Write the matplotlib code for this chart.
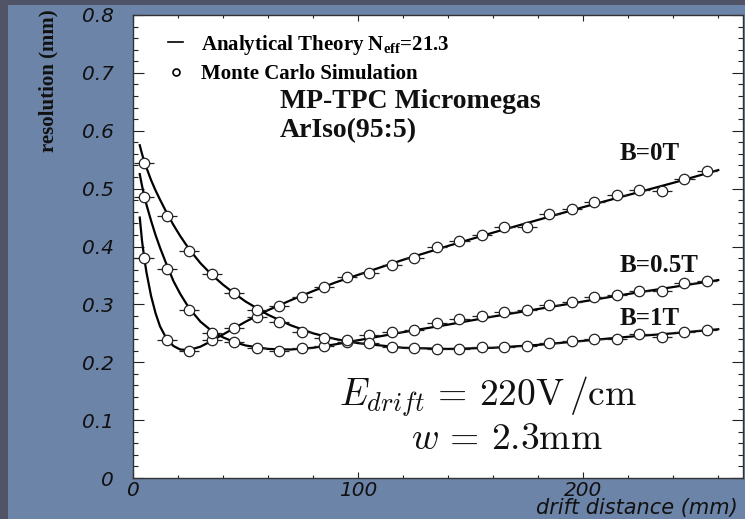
import matplotlib
matplotlib.use("Agg")
import matplotlib.pyplot as plt
import matplotlib.patches as patches
from matplotlib.lines import Line2D
from matplotlib.font_manager import FontProperties
from matplotlib.ticker import MultipleLocator, FuncFormatter


# -----------------------------
# DATA
# -----------------------------
mc_x = [5, 15, 25, 35, 45, 55, 65, 75, 85, 95, 105, 115, 125,
        135, 145, 155, 165, 175, 185, 195, 205, 215, 225, 235, 245, 255]

mc_b0 = [0.380, 0.238, 0.219, 0.238, 0.260, 0.278, 0.297, 0.313, 0.330,
         0.347, 0.354, 0.368, 0.380, 0.400, 0.410, 0.420, 0.434, 0.434,
         0.457, 0.465, 0.477, 0.489, 0.497, 0.496, 0.516, 0.530]

mc_b05 = [0.485, 0.361, 0.290, 0.250, 0.235, 0.224, 0.220, 0.224, 0.228,
          0.235, 0.247, 0.252, 0.255, 0.267, 0.275, 0.280, 0.287, 0.290,
          0.299, 0.304, 0.312, 0.316, 0.323, 0.323, 0.337, 0.340]

mc_b1 = [0.544, 0.452, 0.392, 0.352, 0.320, 0.290, 0.270, 0.252, 0.242,
         0.238, 0.233, 0.226, 0.224, 0.223, 0.223, 0.226, 0.226, 0.228,
         0.233, 0.237, 0.240, 0.240, 0.249, 0.244, 0.252, 0.256]

mc_xerr = 4.5

th_x = [3, 4, 5, 6, 8, 10, 12, 15, 18, 21, 25, 30, 35, 40, 45, 50,
        60, 70, 80, 90, 100, 120, 140, 160, 180, 200, 220, 240, 260]

th_b0 = [0.450, 0.410, 0.380, 0.355, 0.315, 0.285, 0.262, 0.240, 0.228,
         0.222, 0.221, 0.227, 0.237, 0.248, 0.259, 0.270, 0.290, 0.307,
         0.323, 0.338, 0.351, 0.377, 0.401, 0.424, 0.446, 0.468, 0.489,
         0.510, 0.532]

th_b05 = [0.525, 0.505, 0.488, 0.472, 0.445, 0.420, 0.398, 0.368, 0.340,
          0.318, 0.293, 0.270, 0.254, 0.243, 0.235, 0.229, 0.223, 0.222,
          0.225, 0.231, 0.238, 0.252, 0.265, 0.279, 0.292, 0.305, 0.318,
          0.330, 0.342]

th_b1 = [0.575, 0.560, 0.547, 0.536, 0.515, 0.497, 0.481, 0.458, 0.437,
         0.418, 0.395, 0.371, 0.351, 0.334, 0.319, 0.305, 0.282, 0.264,
         0.250, 0.240, 0.233, 0.225, 0.223, 0.225, 0.230, 0.237, 0.244,
         0.250, 0.257]

curve_labels = ["B=0T", "B=0.5T", "B=1T"]
legend_labels = ["Analytical Theory N$_{\\mathrm{eff}}$=21.3",
                 "Monte Carlo Simulation"]

# -----------------------------
# STYLE
# -----------------------------
BG = "#6d84a9"
DARK = "#515466"

plt.rcParams["mathtext.fontset"] = "cm"
plt.rcParams["mathtext.rm"] = "Liberation Serif:bold"
plt.rcParams["mathtext.bf"] = "Liberation Serif:bold"
plt.rcParams["mathtext.it"] = "Liberation Serif:bold:italic"

fig = plt.figure(figsize=(7.45, 5.19), dpi=100, facecolor=BG)

# dark frame strips on top and left
fig.patches.append(patches.Rectangle((0, 1 - 5 / 519), 1, 5 / 519,
                                     transform=fig.transFigure,
                                     facecolor=DARK, edgecolor="none"))
fig.patches.append(patches.Rectangle((0, 0), 8 / 745, 1,
                                     transform=fig.transFigure,
                                     facecolor=DARK, edgecolor="none"))

ax = fig.add_axes([133 / 745, 41 / 519, 610 / 745, 463 / 519])
ax.set_facecolor("white")

# -----------------------------
# CURVES
# -----------------------------
for ty in (th_b0, th_b05, th_b1):
    ax.plot(th_x, ty, color="black", lw=1.6, zorder=2)

for my in (mc_b0, mc_b05, mc_b1):
    ax.errorbar(mc_x, my, xerr=mc_xerr, fmt="o", ms=7.5,
                mfc="white", mec="#222222", mew=0.9,
                ecolor="#222222", elinewidth=0.9, capsize=0, zorder=3)

ax.set_xlim(0, 271)
ax.set_ylim(0, 0.8)

ax.xaxis.set_major_locator(MultipleLocator(100))
ax.xaxis.set_minor_locator(MultipleLocator(20))
ax.yaxis.set_major_locator(MultipleLocator(0.1))
ax.yaxis.set_minor_locator(MultipleLocator(0.02))
ax.yaxis.set_major_formatter(FuncFormatter(lambda v, p: f"{v:.1f}" if v else "0"))

ax.tick_params(axis="both", which="both", direction="in",
               top=True, right=True, color="#222222", width=0.8)
ax.tick_params(axis="y", which="major", length=8, pad=14)
ax.tick_params(axis="y", which="minor", length=3.5)
ax.tick_params(axis="x", which="major", length=4, pad=2)
ax.tick_params(axis="x", which="minor", length=2)

for lab in ax.get_xticklabels() + ax.get_yticklabels():
    lab.set_fontfamily("DejaVu Sans")
    lab.set_fontstyle("oblique")
    lab.set_fontsize(14.5)
    lab.set_color("#111111")

for sp in ax.spines.values():
    sp.set_linewidth(1.0)
    sp.set_color("#333333")

# -----------------------------
# LEGEND
# -----------------------------
handles = [Line2D([], [], color="black", lw=1.2),
           Line2D([], [], marker="o", ls="none", ms=5,
                  mfc="white", mec="black", mew=1.2)]
leg_font = FontProperties(family="Liberation Serif", weight="bold",
                          size=15, math_fontfamily="custom")
ax.legend(handles, legend_labels, loc="upper left",
          bbox_to_anchor=(0.057, 0.962), frameon=False, prop=leg_font,
          handlelength=0.75, handletextpad=0.85, labelspacing=0.35,
          borderpad=0, borderaxespad=0)

# -----------------------------
# TEXT
# -----------------------------
serif_b = dict(family="Liberation Serif", weight="bold", color="#111111")

ax.text(0.241, 0.799, "MP-TPC Micromegas", transform=ax.transAxes,
        fontsize=20, ha="left", va="baseline", **serif_b)
ax.text(0.241, 0.7365, "ArIso(95:5)", transform=ax.transAxes,
        fontsize=20, ha="left", va="baseline", **serif_b)

label_pos = [0.687, 0.445, 0.330]
for txt, yy in zip(curve_labels, label_pos):
    ax.text(0.798, yy, txt, transform=ax.transAxes, fontsize=18,
            ha="left", va="baseline", **serif_b)

ax.text(0.582, 0.157, r"$E_{drift}\,=\,220\mathrm{V}\,/\mathrm{cm}$",
        transform=ax.transAxes, fontsize=27, ha="center", va="baseline",
        math_fontfamily="cm", color="#111111")
ax.text(0.613, 0.062, r"$w\,=\,2.3\mathrm{mm}$",
        transform=ax.transAxes, fontsize=27, ha="center", va="baseline",
        math_fontfamily="cm", color="#111111")

fig.text(48 / 745, 1 - 80.5 / 519, "resolution (mm)", rotation=90,
         ha="center", va="center", fontsize=15, **serif_b)
fig.text(738 / 745, 1 - 514 / 519, "drift distance (mm)",
         ha="right", va="baseline", fontsize=15, family="DejaVu Sans",
         style="oblique", color="#111111")

fig.savefig("out.png", dpi=100, facecolor=fig.get_facecolor())
